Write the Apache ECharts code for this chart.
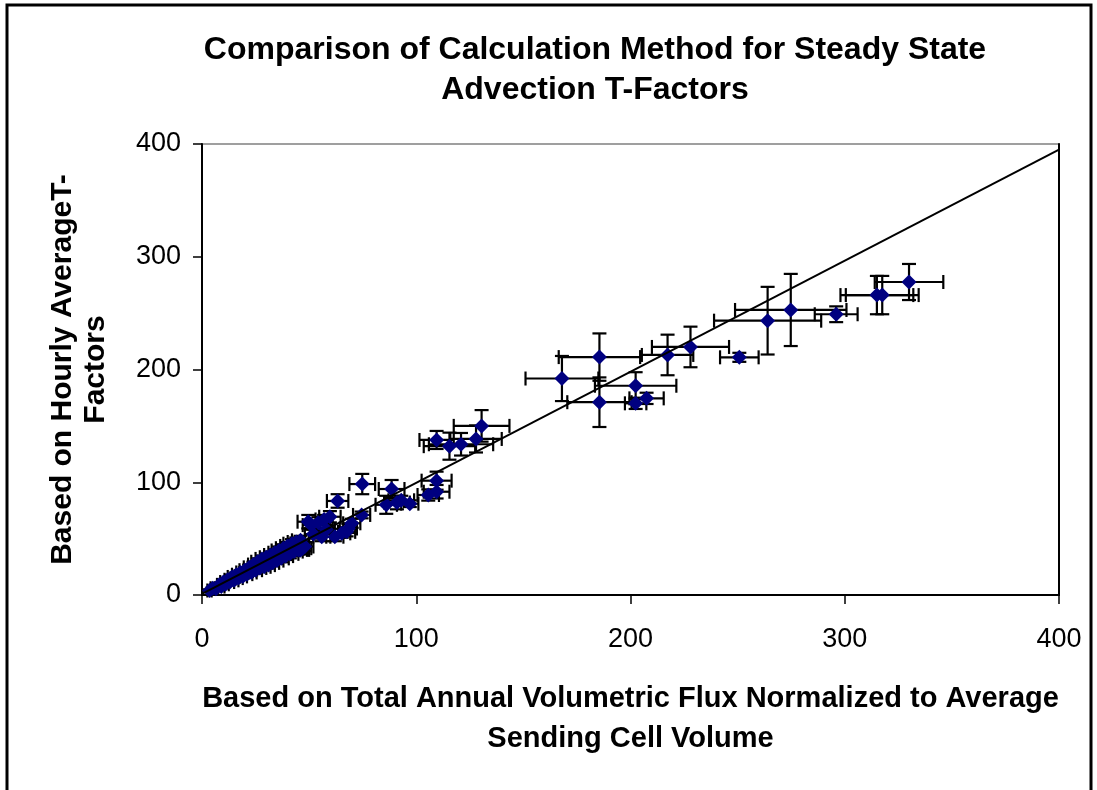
<!DOCTYPE html>
<html>
<head>
<meta charset="utf-8">
<script src="https://cdn.jsdelivr.net/npm/echarts@6/dist/echarts.min.js"></script>
<style>
html,body{margin:0;padding:0;background:#fff;}
#chart{width:1097px;height:790px;}
</style>
</head>
<body>
<div id="chart"></div>
<script>
const titleText = "Comparison of Calculation Method for Steady State\nAdvection T-Factors";
const xAxisName = "Based on Total Annual Volumetric Flux Normalized to Average\nSending Cell Volume";
const yAxisName = "Based on Hourly AverageT-\nFactors";
const axisTicks = [0, 100, 200, 300, 400];

const xValues = [3.5,5,6.5,8,9,10,11,12,13,14,15,16,17,18,19,20,21,22,23,24,25,26,27,28,29,30,31,32,33,34,35,36,37,38,39,40,41,42,43,44,45,46,47,48,
  46,49.6,51,54.3,57,59.7,55.9,52,58,62,65.2,67.5,68.3,69.9,74.5,63.3,74.8,86,88.5,91,93,97,105.6,109.5,109.5,109.5,115.5,120.9,127.9,130.5,
  168,185.5,185.5,202.4,202.4,207.5,217.3,228,250.8,264,274.8,296,315,317.5,330];
const yValues = [4,6,5.5,9,7.5,11.5,9.5,13.5,11.5,16,13,18,15,20,16.5,22,18.5,24.5,20,27,22,29.5,24,32,25,33.5,26.5,35.5,28.5,37.5,30.5,39.5,32.5,41.5,34.5,43.5,36.5,45.5,38.5,47,40,48.5,41.5,43,
  40,65,62,64,67,69.4,51.7,54,58,51.7,54.7,56,59,63.6,71,83.4,98.4,80,94,82,84,81,88.7,91.6,101.4,137.5,132,133.7,138.4,150,
  192,211,171,185.6,170,174.4,212.9,220,210.8,243.3,252.8,249,266,266,277.6];
const xErrors = [1,1,1,1,1.5,1.5,1.5,1.5,2,2,2,2,2,2,2,2.5,2.5,2.5,2.5,2.5,3,3,3,3,3,3,3,3,3,3,3,3.5,3.5,3.5,3.5,3.5,4,4,4,4,4,4,4,4,
  4,5,4,5,4,5,4,4,4,4,4,4,4,4,4,5,6,5,6,6,6,4,5,6,7,8,12,15,12,13,
  17,19,15,19,5,8,12,18,9,25,26,10,17,17,16];
const yErrors = [1,1,1,1,1.5,1.5,1.5,1.5,2,2,2,2,2,2,2,2.5,2.5,2.5,2.5,2.5,3,3,3,3,3,3,3,3,3,3,3,3.5,3.5,3.5,3.5,3.5,4,4,4,4,4,4,4,4,
  4,6,4,5,4,5,4,4,4,4,4,4,4,4,3,6,9,8,8,6,4,3,5,6,8,8,12,10,12,14,
  20,21,22,12,5,5,18,18,4,30,32,7,17,17,16];
const fitLine = [[0, 1], [400, 395]];

const pointData = xValues.map((x, i) => [x, yValues[i]]);
const errorData = xValues.map((x, i) => [x, yValues[i], xErrors[i], yErrors[i]]);

function renderErrorBars(params, api) {
  const x = api.value(0), y = api.value(1), ex = api.value(2), ey = api.value(3);
  const l = api.coord([x - ex, y]), r = api.coord([x + ex, y]);
  const t = api.coord([x, y + ey]), b = api.coord([x, y - ey]);
  const cap = 7;
  const st = { stroke: '#000', lineWidth: 2.2 };
  return {
    type: 'group',
    children: [
      { type: 'line', shape: { x1: l[0], y1: l[1], x2: r[0], y2: r[1] }, style: st },
      { type: 'line', shape: { x1: l[0], y1: l[1] - cap, x2: l[0], y2: l[1] + cap }, style: st },
      { type: 'line', shape: { x1: r[0], y1: r[1] - cap, x2: r[0], y2: r[1] + cap }, style: st },
      { type: 'line', shape: { x1: t[0], y1: t[1], x2: b[0], y2: b[1] }, style: st },
      { type: 'line', shape: { x1: t[0] - cap, y1: t[1], x2: t[0] + cap, y2: t[1] }, style: st },
      { type: 'line', shape: { x1: b[0] - cap, y1: b[1], x2: b[0] + cap, y2: b[1] }, style: st }
    ]
  };
}

const font = "'Liberation Sans', Arial, sans-serif";
const chart = echarts.init(document.getElementById('chart'), null, { renderer: 'canvas' });
chart.setOption({
  animation: false,
  backgroundColor: '#fff',
  textStyle: { fontFamily: font },
  title: {
    text: titleText,
    left: 590, top: 25, textAlign: 'center',
    textStyle: { fontFamily: font, fontSize: 32, fontWeight: 'bold', color: '#000', lineHeight: 40 }
  },
  graphic: [{
    type: 'rect', shape: { x: 7, y: 5, width: 1084, height: 820 },
    style: { fill: 'none', stroke: '#000', lineWidth: 3 }, silent: true, z: 100
  }],
  grid: { left: 202, top: 144, right: 38, bottom: 195, show: true, borderColor: '#808080', borderWidth: 1.5 },
  xAxis: {
    type: 'value', min: 0, max: 400, interval: 100,
    name: xAxisName, nameLocation: 'middle', nameGap: 84,
    nameTextStyle: { fontFamily: font, fontSize: 29, fontWeight: 'bold', color: '#000', lineHeight: 40 },
    axisLine: { show: true, onZero: false, lineStyle: { color: '#000', width: 2 } },
    axisTick: { show: true, inside: false, length: 9, lineStyle: { color: '#000', width: 1.5 } },
    axisLabel: { margin: 31, fontFamily: font, fontSize: 27, color: '#000',
      formatter: v => axisTicks.includes(v) ? String(v) : '' },
    splitLine: { show: false }
  },
  yAxis: [{
    type: 'value', min: 0, max: 400, interval: 100,
    name: yAxisName, nameLocation: 'middle', nameGap: 90, nameRotate: 90,
    nameTextStyle: { fontFamily: font, fontSize: 30, fontWeight: 'bold', color: '#000', lineHeight: 33 },
    axisLine: { show: true, onZero: false, lineStyle: { color: '#000', width: 2 } },
    axisTick: { show: true, inside: false, length: 9, lineStyle: { color: '#000', width: 1.5 } },
    axisLabel: { margin: 21, fontFamily: font, fontSize: 27, color: '#000' },
    splitLine: { show: false }
  }, {
    type: 'value', min: 0, max: 400, interval: 100, position: 'right',
    axisLine: { show: true, onZero: false, lineStyle: { color: '#000', width: 2 } },
    axisTick: { show: false }, axisLabel: { show: false }, splitLine: { show: false }
  }],
  series: [
    {
      type: 'custom', name: 'errors', renderItem: renderErrorBars, data: errorData,
      encode: { x: 0, y: 1 }, z: 2, clip: false, silent: true
    },
    {
      type: 'scatter', name: 'T-Factors', data: pointData, symbol: 'diamond', symbolSize: 15,
      itemStyle: { color: '#000080', opacity: 1 }, z: 3
    },
    {
      type: 'line', name: 'fit', data: fitLine, showSymbol: false, symbol: 'none',
      lineStyle: { color: '#000', width: 2 }, z: 4, silent: true
    }
  ]
});
</script>
</body>
</html>
